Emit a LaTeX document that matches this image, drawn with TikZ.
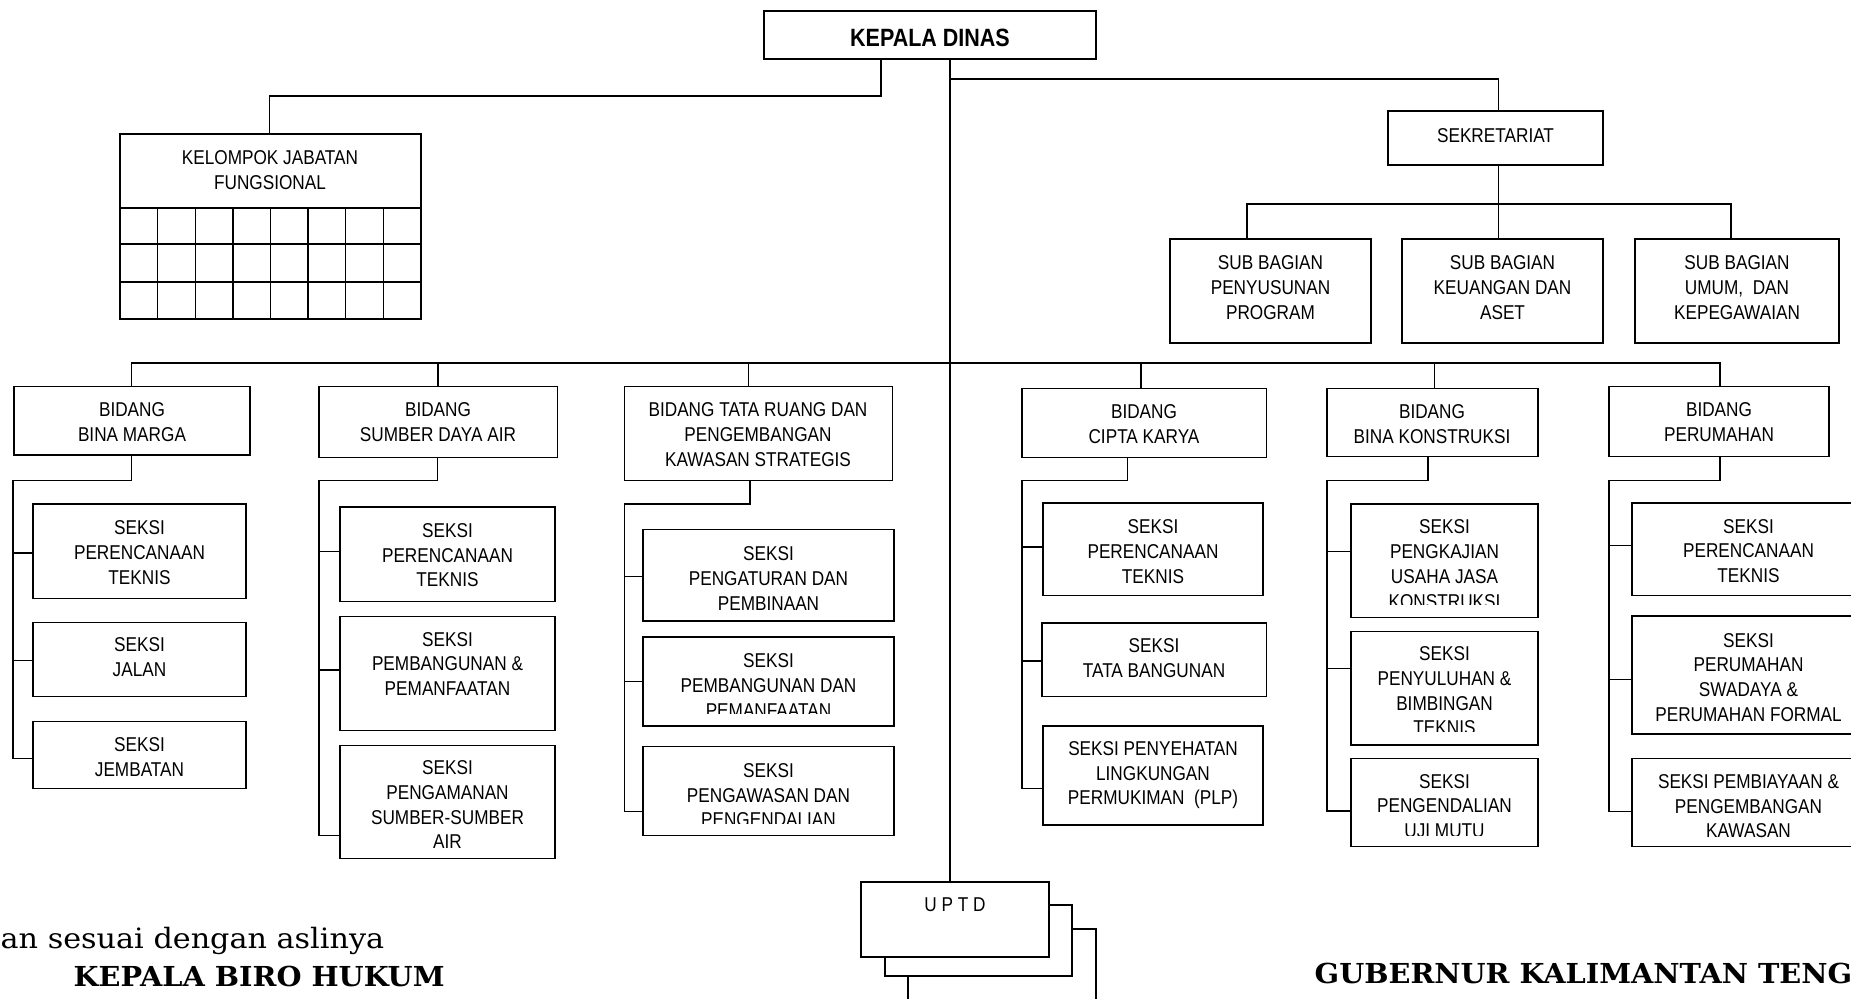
\documentclass[tikz,border=0pt]{standalone}
\usepackage{fontspec}
\usetikzlibrary{fit}
\newfontfamily\boxfont{Liberation Sans}[FakeStretch=0.86]
\newfontfamily\docserif{DejaVu Serif}[FakeStretch=1.08]
\newfontfamily\docserifb{DejaVu Serif}[FakeStretch=1.045]

\begin{document}
\begin{tikzpicture}[x=1pt,y=-1pt,
  line width=1.4pt,
  unit/.style={draw, fill=white, inner sep=0pt, line width=1.4pt},
  lbl/.style={anchor=north, align=center, inner sep=0pt,
    font=\boxfont\fontsize{20}{24.7}\selectfont},
  head/.style={anchor=north, inner sep=0pt,
    font=\boxfont\bfseries\fontsize{25}{30}\selectfont},
  note/.style={anchor=base west, inner sep=0pt,
    font=\docserif\fontsize{28}{32}\selectfont},
  notebold/.style={anchor=base west, inner sep=0pt,
    font=\docserifb\bfseries\fontsize{27.5}{32}\selectfont},
]
\useasboundingbox (0,0) rectangle (1851,998);
\fill[white] (0,0) rectangle (1851,998);
\clip (0,0) rectangle (1851,998);

% ---------- top level ----------
\node[unit, fit={(764,11) (1096,59)}] (kd) {};
\node[head] (kd-t) at (930,28) {KEPALA DINAS};

% functional group with its grid
\node[unit, fit={(120,134) (421,319)}] (kjf) {};
\node[lbl] (kjf-t) at (270,150) {KELOMPOK JABATAN\\FUNGSIONAL};
\draw (120,208) -- (421,208);
\draw (120,244) -- (421,244);
\draw (120,282) -- (421,282);
\foreach \c in {1,...,7} \draw (120+\c*37.6,208) -- (120+\c*37.6,319);

% secretariat
\node[unit, fit={(1388,111) (1603,165)}] (sek) {};
\node[lbl] (sek-t) at (1495.5,127.5) {SEKRETARIAT};
\node[unit, fit={(1170,239) (1371,343)}] (sub1) {};
\node[unit, fit={(1402,239) (1603,343)}] (sub2) {};
\node[unit, fit={(1635,239) (1839,343)}] (sub3) {};
\node[lbl] (sub1-t) at (1270.5,255) {SUB BAGIAN\\PENYUSUNAN\\PROGRAM};
\node[lbl] (sub2-t) at (1502.5,255) {SUB BAGIAN\\KEUANGAN DAN\\ASET};
\node[lbl] (sub3-t) at (1737,255) {SUB BAGIAN\\UMUM,~ DAN\\KEPEGAWAIAN};

% ---------- bidang row ----------
\node[unit, fit={(14,386.6) (250,454.8)}] (bm) {};
\node[unit, fit={(319,386.6) (557.5,457.2)}] (sda) {};
\node[unit, fit={(624.5,386.6) (892.5,480.7)}] (tr) {};
\node[unit, fit={(1022,388.3) (1266.5,457.2)}] (ck) {};
\node[unit, fit={(1327,388.3) (1538,456.6)}] (bk) {};
\node[unit, fit={(1609,386.6) (1829,456.6)}] (pr) {};
\node[lbl] (bm-t) at (132,402) {BIDANG\\BINA MARGA};
\node[lbl] (sda-t) at (438,402) {BIDANG\\SUMBER DAYA AIR};
\node[lbl] (tr-t) at (758,402) {BIDANG TATA RUANG DAN\\PENGEMBANGAN\\KAWASAN STRATEGIS};
\node[lbl] (ck-t) at (1144,403.8) {BIDANG\\CIPTA KARYA};
\node[lbl] (bk-t) at (1432,403.8) {BIDANG\\BINA KONSTRUKSI};
\node[lbl] (pr-t) at (1719,402) {BIDANG\\PERUMAHAN};

% ---------- seksi boxes ----------
\node[unit, fit={(33,504.1) (246,598.6)}] (bm1) {};
\node[unit, fit={(33,622.4) (246,696.2)}] (bm2) {};
\node[unit, fit={(33,721.4) (246,788.3)}] (bm3) {};
\node[lbl] (bm1-t) at (139.5,520) {SEKSI\\PERENCANAAN\\TEKNIS};
\node[lbl] (bm2-t) at (139.5,637.2) {SEKSI\\JALAN};
\node[lbl] (bm3-t) at (139.5,737.2) {SEKSI\\JEMBATAN};

\node[unit, fit={(340,506.9) (555,601.7)}] (sda1) {};
\node[unit, fit={(340,616.2) (555,730.3)}] (sda2) {};
\node[unit, fit={(340,745.2) (555,858.3)}] (sda3) {};
\node[lbl] (sda1-t) at (447.5,522.8) {SEKSI\\PERENCANAAN\\TEKNIS};
\node[lbl] (sda2-t) at (447.5,631.4) {SEKSI\\PEMBANGUNAN \&\\PEMANFAATAN};
\node[lbl] (sda3-t) at (447.5,760) {SEKSI\\PENGAMANAN\\SUMBER-SUMBER\\AIR};

\node[unit, fit={(643,529.3) (894,621)}] (tr1) {};
\node[unit, fit={(643,636.9) (894,725.9)}] (tr2) {};
\node[unit, fit={(643,746.6) (894,835.5)}] (tr3) {};
\node[lbl] (tr1-t) at (768.5,546.2) {SEKSI\\PENGATURAN DAN\\PEMBINAAN};
% text frames that cut off their last line
\begin{scope}
  \clip (643,636.9) rectangle (894,713.5);
  \node[lbl] (tr2-t) at (768.5,653.1) {SEKSI\\PEMBANGUNAN DAN\\PEMANFAATAN};
\end{scope}
\begin{scope}
  \clip (643,746.6) rectangle (894,823.7);
  \node[lbl] (tr3-t) at (768.5,762.8) {SEKSI\\PENGAWASAN DAN\\PENGENDALIAN};
\end{scope}

\node[unit, fit={(1043,502.8) (1263,595.5)}] (ck1) {};
\node[unit, fit={(1042,622.8) (1266.5,696.2)}] (ck2) {};
\node[unit, fit={(1043,725.9) (1263,824.8)}] (ck3) {};
\node[lbl] (ck1-t) at (1153,519.3) {SEKSI\\PERENCANAAN\\TEKNIS};
\node[lbl] (ck2-t) at (1154,638.3) {SEKSI\\TATA BANGUNAN};
\node[lbl] (ck3-t) at (1153,740.7) {SEKSI PENYEHATAN\\LINGKUNGAN\\PERMUKIMAN~ (PLP)};

\node[unit, fit={(1351,504.1) (1538,617.2)}] (bk1) {};
\node[unit, fit={(1351,631.4) (1538,744.8)}] (bk2) {};
\node[unit, fit={(1351,758.3) (1538,846.2)}] (bk3) {};
\begin{scope}
  \clip (1351,504.1) rectangle (1538,604.9);
  \node[lbl] (bk1-t) at (1444.5,519.3) {SEKSI\\PENGKAJIAN\\USAHA JASA\\KONSTRUKSI};
\end{scope}
\begin{scope}
  \clip (1351,631.4) rectangle (1538,731.3);
  \node[lbl] (bk2-t) at (1444.5,646.2) {SEKSI\\PENYULUHAN \&\\BIMBINGAN\\TEKNIS};
\end{scope}
\begin{scope}
  \clip (1351,758.3) rectangle (1538,835.8);
  \node[lbl] (bk3-t) at (1444.5,773.4) {SEKSI\\PENGENDALIAN\\UJI MUTU};
\end{scope}

\node[unit, fit={(1632,502.8) (1865,595.5)}] (pr1) {};
\node[unit, fit={(1632,615.9) (1865,733.8)}] (pr2) {};
\node[unit, fit={(1632,758.3) (1865,846.2)}] (pr3) {};
\node[lbl] (pr1-t) at (1748.5,518.6) {SEKSI\\PERENCANAAN\\TEKNIS};
\node[lbl] (pr2-t) at (1748.5,632.4) {SEKSI\\PERUMAHAN\\SWADAYA \&\\PERUMAHAN FORMAL};
\node[lbl] (pr3-t) at (1748.5,773.8) {SEKSI PEMBIAYAAN \&\\PENGEMBANGAN\\KAWASAN};

% ---------- UPTD stack ----------
\node[unit, fit={(908,929) (1096,1060)}] (uptd3) {};
\node[unit, fit={(885,905) (1072,976)}] (uptd2) {};
\node[unit, fit={(861,882) (1049,957)}] (uptd) {};
\node[lbl] (uptd-t) at (955,897) {U P T D};

% ---------- connectors ----------
\coordinate (trunk) at (950,0);
\draw (kd.south -| trunk) -- (uptd.north -| trunk);

\coordinate (jL) at (881,96);
\coordinate (jF) at (269.5,96);
\draw (kd.south -| jL) -- (jL) -- (jF) -- (kjf.north -| jF);

\coordinate (jS) at (1498.5,79);
\draw (trunk |- jS) -- (jS) -- (sek.north -| jS);
\coordinate (sb1) at (1247,204);
\coordinate (sb2) at (1498.5,204);
\coordinate (sb3) at (1731,204);
\draw (sek.south -| sb2) -- (sb2) -- (sub2.north -| sb2);
\draw (sub1.north -| sb1) -- (sb1) -- (sb3) -- (sub3.north -| sb3);

% main bus to the bidang row
\coordinate (b1) at (131.5,363);
\coordinate (b2) at (438,363);
\coordinate (b3) at (748.5,363);
\coordinate (b4) at (1141,363);
\coordinate (b5) at (1434.5,363);
\coordinate (b6) at (1720,363);
\draw (bm.north -| b1) -- (b1) -- (b6) -- (pr.north -| b6);
\draw (b2) -- (sda.north -| b2);
\draw (b3) -- (tr.north -| b3);
\draw (b4) -- (ck.north -| b4);
\draw (b5) -- (bk.north -| b5);

% bina marga rail
\coordinate (bmA) at (131.5,480.7); \coordinate (bmB) at (13,480.7);
\coordinate (bmC1) at (13,552.8); \coordinate (bmC2) at (13,660.7); \coordinate (bmC3) at (13,758.3);
\draw (bm.south -| bmA) -- (bmA) -- (bmB) -- (bmC3) -- (bm3.west |- bmC3);
\draw (bmC1) -- (bm1.west |- bmC1);
\draw (bmC2) -- (bm2.west |- bmC2);

% sumber daya air rail
\coordinate (sdaA) at (437.5,480.7); \coordinate (sdaB) at (319,480.7);
\coordinate (sdaC1) at (319,551.4); \coordinate (sdaC2) at (319,670); \coordinate (sdaC3) at (319,835.2);
\draw (sda.south -| sdaA) -- (sdaA) -- (sdaB) -- (sdaC3) -- (sda3.west |- sdaC3);
\draw (sdaC1) -- (sda1.west |- sdaC1);
\draw (sdaC2) -- (sda2.west |- sdaC2);

% tata ruang rail
\coordinate (trA) at (750,504.1); \coordinate (trB) at (624.5,504.1);
\coordinate (trC1) at (624.5,576.2); \coordinate (trC2) at (624.5,681.4); \coordinate (trC3) at (624.5,811.4);
\draw (tr.south -| trA) -- (trA) -- (trB) -- (trC3) -- (tr3.west |- trC3);
\draw (trC1) -- (tr1.west |- trC1);
\draw (trC2) -- (tr2.west |- trC2);

% cipta karya rail
\coordinate (ckA) at (1127.5,480.7); \coordinate (ckB) at (1022,480.7);
\coordinate (ckC1) at (1022,546.9); \coordinate (ckC2) at (1022,661); \coordinate (ckC3) at (1022,788.3);
\draw (ck.south -| ckA) -- (ckA) -- (ckB) -- (ckC3) -- (ck3.west |- ckC3);
\draw (ckC1) -- (ck1.west |- ckC1);
\draw (ckC2) -- (ck2.west |- ckC2);

% bina konstruksi rail
\coordinate (bkA) at (1428,480.7); \coordinate (bkB) at (1327,480.7);
\coordinate (bkC1) at (1327,551.4); \coordinate (bkC2) at (1327,668.3); \coordinate (bkC3) at (1327,811);
\draw (bk.south -| bkA) -- (bkA) -- (bkB) -- (bkC3) -- (bk3.west |- bkC3);
\draw (bkC1) -- (bk1.west |- bkC1);
\draw (bkC2) -- (bk2.west |- bkC2);

% perumahan rail
\coordinate (prA) at (1720,480.7); \coordinate (prB) at (1609,480.7);
\coordinate (prC1) at (1609,545.2); \coordinate (prC2) at (1609,679.7); \coordinate (prC3) at (1609,811.4);
\draw (pr.south -| prA) -- (prA) -- (prB) -- (prC3) -- (pr3.west |- prC3);
\draw (prC1) -- (pr1.west |- prC1);
\draw (prC2) -- (pr2.west |- prC2);

% ---------- footer text ----------
\node[note] (cert) at (0,948) {an sesuai dengan aslinya};
\node[notebold] (biro) at (73,986.5) {KEPALA BIRO HUKUM};
\node[notebold] (gub) at (1314,983) {GUBERNUR KALIMANTAN TENG};
\end{tikzpicture}
\end{document}
